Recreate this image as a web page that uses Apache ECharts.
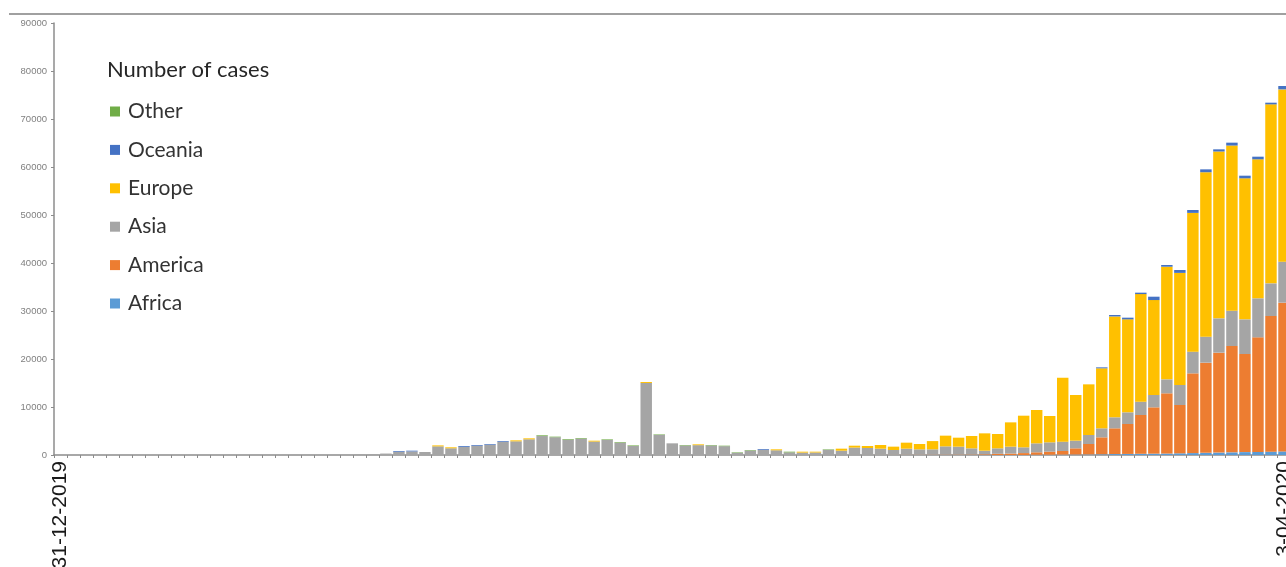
<!DOCTYPE html>
<html>
<head>
<meta charset="utf-8">
<script src="https://cdn.jsdelivr.net/npm/echarts@6/dist/echarts.min.js"></script>
<style>html,body{margin:0;padding:0;background:#fff}#c{width:1286px;height:567px}</style>
</head>
<body>
<div id="c"></div>
<script>
// Categories: daily dates 31-12-2019 .. 3-04-2020
const startDate = new Date(2019, 11, 31);
const dayCount = 95;
const categories = [];
for (let i = 0; i < dayCount; i++) {
  const d = new Date(startDate.getFullYear(), startDate.getMonth(), startDate.getDate() + i);
  categories.push(d.getDate() + '-' + String(d.getMonth() + 1).padStart(2, '0') + '-' + d.getFullYear());
}
const shownLabels = [0, 94];

const legendOrder = ['Other', 'Oceania', 'Europe', 'Asia', 'America', 'Africa'];

// index:            0    1    2    3    4    5    6    7    8    9
const africa = [     0,   0,   0,   0,   0,   0,   0,   0,   0,   0,
                     0,   0,   0,   0,   0,   0,   0,   0,   0,   0,
                     0,   0,   0,   0,   0,   0,   0,   0,   0,   0,
                     0,   0,   0,   0,   0,   0,   0,   0,   0,   0,
                     0,   0,   0,   0,   0,   0,   0,   0,   0,   0,
                     0,   0,   0,   0,   0,   0,   0,   0,   0,   0,
                     0,   0,   0,   0,   0,   0,   0,   0,   0,   0,
                     0,   0,   0,   0,   0,  50,  60,  80, 100, 120,
                   150, 200, 220, 250, 280, 300, 350, 400, 450, 500,
                   550, 600, 650, 700, 750];
const america = [    0,   0,   0,   0,   0,   0,   0,   0,   0,   0,
                     0,   0,   0,   0,   0,   0,   0,   0,   0,   0,
                     0,   0,   0,   0,   0,   0,   0,   0,   0,   0,
                     0,   0,   0,   0,   0,   0,   0,   0,   0,   0,
                     0,   0,   0,   0,   0,   0,   0,   0,   0,   0,
                     0,   0,   0,   0,   0,   0,   0,   0,   0,   0,
                    10,  20,  20,  30,  40,  50,  60,  70,  80,  90,
                   100, 150, 250, 300, 400, 510, 640, 750, 1290, 2170,
                  3530, 5360, 6240, 8080, 9650, 12550, 10070, 16610, 18790, 20820,
                 22160, 20440, 23860, 28260, 30990];
const asia = [       0,   0,   0,   0,   0,   0,   0,   0,   0,   0,
                     0,   0,   0,   0,   0,   0,   0,   0,   0,   0,
                     0,   0,   0, 100, 150, 300, 680, 750, 620, 1800,
                  1400, 1700, 1930, 2150, 2750, 2850, 3270, 3950, 3700, 3200,
                  3420, 2800, 3140, 2580, 1880, 15000, 4200, 2430, 1980, 2050,
                  1980, 1840, 460, 940, 1100, 980, 550, 500, 520, 1080,
                   890, 1530, 1440, 1290, 1000, 1270, 1120, 1110, 1720, 1650,
                  1290, 750, 1140, 1440, 1200, 1870, 1940, 1950, 1600, 1880,
                  1880, 2290, 2430, 2780, 2570, 2910, 4160, 4520, 5410, 7150,
                  7360, 7220, 8130, 6800, 8540];
const europe = [     0,   0,   0,   0,   0,   0,   0,   0,   0,   0,
                     0,   0,   0,   0,   0,   0,   0,   0,   0,   0,
                     0,   0,   0,   0,   0,   0,   0,   0,   0, 200,
                   200,   0,   0,   0,   0, 200, 200,   0,   0,   0,
                     0, 180,   0,   0,   0, 200,   0,   0,   0, 170,
                     0,   0,   0,   0,   0, 200,   0, 190, 170,   0,
                   420, 390, 410, 760, 700, 1250, 1110, 1720, 2230, 1870,
                  2570, 3610, 2980, 5060, 6590, 6945, 5485, 13320, 9510, 10550,
                 12500, 21020, 19370, 22410, 19780, 23470, 23360, 28910, 34260, 34760,
                 34400, 29380, 28960, 37290, 35890];
const oceania = [    0,   0,   0,   0,   0,   0,   0,   0,   0,   0,
                     0,   0,   0,   0,   0,   0,   0,   0,   0,   0,
                     0,   0,   0,   0,   0,   0, 150, 150,   0,   0,
                     0, 170, 150, 140, 150,   0,   0,   0,   0,   0,
                     0,   0,   0,   0,   0,   0,   0,   0,   0,   0,
                     0,   0,   0,   0, 150,   0,   0,   0,   0,   0,
                     0,   0,   0,   0,   0,   0,   0,   0,   0,   0,
                     0,   0,   0,   0,   0,   0,   0,   0,   0,   0,
                   200, 300, 350, 300, 700, 350, 600, 600, 600, 450,
                   600, 550, 550, 350, 700];
const other = [      0,   0,   0,   0,   0,   0,   0,   0,   0,   0,
                     0,   0,   0,   0,   0,   0,   0,   0,   0,   0,
                     0,   0,   0,   0,   0,   0,   0,   0,   0,   0,
                     0,   0,   0,   0,   0,   0,   0, 150, 120, 130,
                   120,   0, 120, 120, 120,   0, 100,   0, 100,   0,
                   100, 100, 100, 100,   0,   0, 140,   0,   0, 100,
                     0,   0,   0,   0,   0,   0,   0,   0,   0,   0,
                     0,   0,   0,   0,   0,   0,   0,   0,   0,   0,
                     0,   0,   0,   0,   0,   0,   0,   0,   0,   0,
                     0,   0,   0,   0,   0];

const yTicks = { min: 0, max: 90000, interval: 10000 };

const seriesDefs = [
  { name: 'Africa', data: africa, color: '#5B9BD5' },
  { name: 'America', data: america, color: '#ED7D31' },
  { name: 'Asia', data: asia, color: '#A5A5A5' },
  { name: 'Europe', data: europe, color: '#FFC000' },
  { name: 'Oceania', data: oceania, color: '#4472C4' },
  { name: 'Other', data: other, color: '#70AD47' }
];

const chart = echarts.init(document.getElementById('c'), null, { renderer: 'canvas' });
chart.setOption({
  animation: false,
  backgroundColor: '#ffffff',
  title: {
    text: 'Number of cases',
    left: 102, top: 54,
    textStyle: { fontFamily: 'Lato', fontSize: 22, fontWeight: 'normal', color: '#262626' }
  },
  legend: {
    orient: 'vertical',
    left: 105, top: 96,
    icon: 'rect',
    itemWidth: 10, itemHeight: 10,
    itemGap: 17.4,
    data: legendOrder,
    textStyle: { fontFamily: 'Lato', fontSize: 21, lineHeight: 21, color: '#333333', padding: [0, 0, 0, 3] },
    selectedMode: false
  },
  graphic: [{
    type: 'line',
    shape: { x1: 9, y1: 14, x2: 1286, y2: 14 },
    style: { stroke: '#a0a0a0', lineWidth: 2 },
    silent: true
  }],
  grid: { left: 54, top: 23, width: 1236.5, height: 432, outerBoundsMode: 'none', containLabel: false },
  xAxis: {
    type: 'category',
    data: categories,
    boundaryGap: true,
    axisLine: { lineStyle: { color: '#8c8c8c', width: 1.5 } },
    axisTick: { show: true, length: 3, lineStyle: { color: '#8c8c8c' }, interval: 0 },
    axisLabel: {
      rotate: 90,
      interval: function (idx) { return shownLabels.indexOf(idx) >= 0; },
      fontFamily: 'Liberation Sans', fontSize: 21, color: '#1a1a1a', margin: 6
    },
    splitLine: { show: false }
  },
  yAxis: {
    type: 'value',
    min: yTicks.min, max: yTicks.max, interval: yTicks.interval,
    axisLine: { show: true, lineStyle: { color: '#8c8c8c', width: 1.5 } },
    axisTick: { show: true, length: 3, lineStyle: { color: '#8c8c8c' } },
    axisLabel: {
      fontFamily: 'Liberation Sans', fontSize: 9.5, color: '#808080', margin: 7,
      formatter: function (v) { return String(v); }
    },
    splitLine: { show: false }
  },
  series: seriesDefs.map(s => ({
    name: s.name,
    type: 'bar',
    stack: 'total',
    data: s.data,
    barCategoryGap: '12%',
    itemStyle: { color: s.color },
    emphasis: { disabled: true }
  }))
});
</script>
</body>
</html>
